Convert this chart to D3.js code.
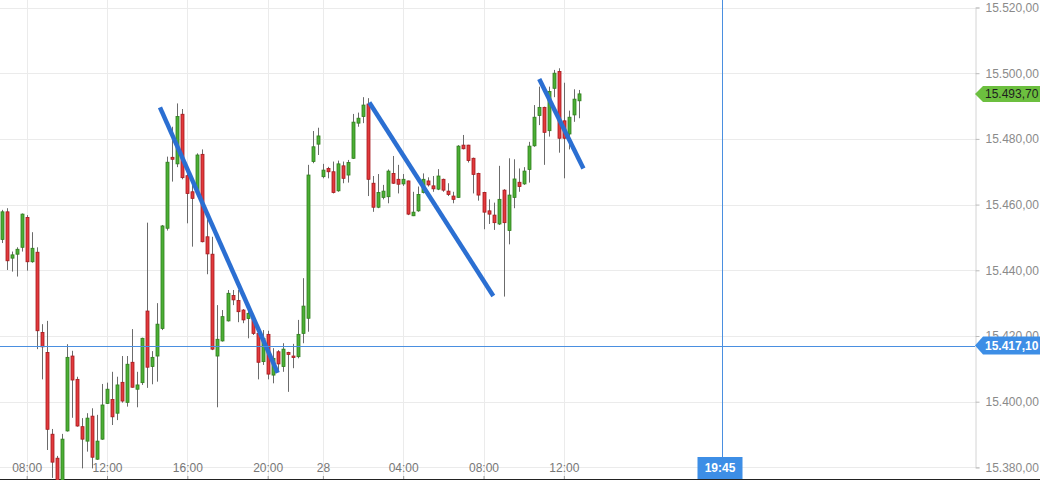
<!DOCTYPE html>
<html><head><meta charset="utf-8">
<script src="https://cdn.jsdelivr.net/npm/d3@7"></script>
<style>
html,body{margin:0;padding:0;background:#fff;}
svg{display:block;font-family:"Liberation Sans",Arial,sans-serif;}
</style></head>
<body><svg id="c" width="1040" height="480"></svg>
<script>
// ---- data (15-minute candles, index 0..115) ----
const open = [15449.4,15457.8,15443.7,15444.9,15447.0,15456.1,15442.6,15445.5,15421.1,15415.0,
15390.1,15382.8,15374.6,15391.1,15413.9,15406.8,15392.4,15388.0,15395.6,15382.5,
15388.6,15399.5,15400.7,15396.5,15405.9,15399.8,15412.0,15403.8,15405.8,15427.6,
15410.7,15413.9,15422.3,15452.8,15474.4,15472.4,15487.5,15468.8,15463.9,15463.9,
15475.3,15450.2,15444.9,15413.9,15418.5,15424.6,15432.3,15430.8,15427.9,15425.3,
15425.3,15420.8,15412.2,15420.5,15408.1,15415.2,15410.7,15415.0,15413.9,15413.7,
15420.8,15425.4,15473.1,15478.4,15468.5,15471.0,15470.0,15464.2,15471.8,15469.0,
15474.1,15484.8,15486.8,15490.6,15466.5,15459.2,15462.2,15462.4,15469.5,15467.7,
15466.3,15467.2,15456.6,15458.1,15463.7,15467.2,15465.7,15464.7,15467.7,15464.1,
15462.6,15462.2,15478.1,15478.1,15474.1,15469.5,15463.7,15458.1,15456.8,15454.1,
15464.4,15452.1,15462.2,15466.8,15466.3,15470.7,15477.9,15487.1,15489.6,15482.5,
15495.4,15500.5,15485.5,15481.5,15487.3,15491.6];
const high = [15458.4,15458.9,15445.7,15447.0,15457.3,15456.8,15451.6,15447.0,15423.6,15424.6,
15391.7,15383.5,15390.2,15417.5,15415.5,15407.6,15395.0,15396.5,15398.0,15396.0,
15405.4,15405.8,15409.1,15407.6,15413.9,15413.9,15422.1,15409.1,15419.5,15454.5,
15415.4,15430.0,15453.8,15474.6,15483.7,15490.8,15489.1,15471.5,15467.5,15475.6,
15476.8,15455.5,15450.2,15429.4,15427.9,15434.0,15434.0,15434.0,15428.2,15427.9,
15425.9,15421.8,15421.8,15421.6,15416.3,15415.7,15417.8,15415.2,15417.6,15424.9,
15437.6,15472.1,15482.4,15483.4,15472.4,15471.5,15473.1,15473.4,15473.1,15473.6,
15487.6,15488.0,15492.7,15492.4,15468.7,15469.3,15466.0,15470.7,15474.8,15472.1,
15469.3,15467.3,15463.9,15465.5,15469.5,15468.3,15468.7,15470.8,15467.9,15466.5,
15463.9,15478.1,15481.2,15478.2,15474.3,15469.7,15463.9,15461.6,15460.6,15471.8,
15464.7,15474.1,15473.8,15471.0,15471.4,15479.1,15490.3,15495.9,15489.8,15495.9,
15501.0,15501.5,15497.1,15488.6,15495.1,15494.9];
const low = [15448.3,15440.1,15439.6,15438.1,15445.7,15439.9,15442.3,15416.0,15406.8,15385.3,
15376.8,15371.6,15371.6,15390.9,15395.1,15392.4,15379.7,15384.8,15379.7,15382.3,
15388.4,15399.3,15392.9,15394.4,15399.7,15398.5,15404.3,15398.3,15405.1,15404.2,
15405.3,15406.1,15421.8,15452.1,15467.0,15471.4,15467.7,15454.3,15447.2,15463.6,
15448.5,15438.8,15415.7,15398.3,15418.3,15424.4,15429.4,15424.2,15423.9,15419.3,
15420.3,15406.8,15411.2,15406.8,15405.6,15409.6,15409.1,15403.0,15410.2,15413.2,
15417.8,15421.3,15472.6,15475.1,15468.0,15468.0,15463.4,15463.9,15466.5,15466.7,
15473.9,15483.7,15484.8,15462.6,15457.8,15458.9,15461.6,15460.4,15466.3,15463.4,
15465.7,15456.8,15456.5,15457.8,15463.4,15465.5,15463.9,15464.4,15463.9,15462.6,
15460.4,15462.1,15476.8,15472.8,15463.4,15461.2,15452.5,15454.1,15452.3,15453.8,
15432.0,15447.9,15458.9,15463.9,15466.0,15466.7,15477.6,15484.2,15472.1,15480.7,
15492.7,15475.8,15468.0,15476.8,15485.2,15486.3];
const close = [15457.8,15442.9,15444.7,15446.4,15457.1,15442.6,15446.7,15421.6,15416.7,15391.6,
15381.6,15374.6,15388.6,15413.5,15406.6,15392.6,15388.6,15395.0,15383.1,15388.0,
15399.0,15403.8,15395.4,15405.1,15400.2,15411.4,15404.4,15405.1,15419.3,15410.5,
15413.5,15423.6,15453.5,15472.9,15473.8,15486.8,15468.2,15463.4,15461.9,15475.1,
15448.7,15445.0,15416.0,15419.0,15425.9,15433.0,15431.0,15427.4,15424.9,15426.9,
15420.8,15412.0,15419.3,15408.4,15413.2,15411.5,15416.0,15414.4,15413.5,15420.5,
15429.1,15469.0,15477.6,15480.9,15470.5,15470.0,15463.7,15472.4,15468.0,15472.8,
15485.1,15486.3,15490.3,15467.7,15459.2,15463.7,15464.1,15470.2,15466.5,15466.2,
15467.7,15457.1,15457.7,15463.1,15467.7,15466.0,15464.8,15468.7,15464.4,15463.1,
15461.6,15477.8,15477.0,15473.4,15469.2,15462.9,15457.7,15457.1,15454.5,15461.6,
15454.5,15462.9,15467.8,15465.5,15470.2,15477.8,15486.6,15489.6,15482.0,15494.4,
15500.0,15480.2,15480.2,15486.6,15492.1,15493.7];

const xTickIdx = [5,21,37,53,64,80,96,112];
const xTickLabels = ["08:00","12:00","16:00","20:00","28","04:00","08:00","12:00"];
const yTicks = [15380,15400,15420,15440,15460,15480,15500,15520];

const trendStartIdx = [31.55,73.25,107.1];
const trendStartVal = [15489.6,15491.1,15498.2];
const trendEndIdx = [55.0,97.95,115.9];
const trendEndVal = [15408.8,15432.2,15471.0];

const crossIdx = 143.5;
const crossVal = 15417.1;
const crossTime = "19:45";

// ---- scales ----
const svg = d3.select("#c");
const plotRight = 975;
const x = d3.scaleLinear().domain([0,115]).range([1.6, 1.6 + 5.02*115]);
const y = d3.scaleLinear().domain([15380,15520]).range([467.4,7.5]);
const loc = d3.formatLocale({decimal:",",thousands:".",grouping:[3],currency:["",""]});
const fmt = loc.format(",.2f");

// grid
const grid = svg.append("g");
grid.selectAll("line.h").data(yTicks).join("line")
  .attr("x1",0).attr("x2",plotRight).attr("y1",d=>Math.round(y(d))+0.5).attr("y2",d=>Math.round(y(d))+0.5)
  .attr("stroke","#ebebeb");
grid.selectAll("line.v").data(xTickIdx).join("line")
  .attr("y1",0).attr("y2",479).attr("x1",d=>Math.round(x(d))+0.5).attr("x2",d=>Math.round(x(d))+0.5)
  .attr("stroke","#ebebeb");

// y axis
const yAxis = d3.axisRight(y).tickValues(yTicks).tickFormat(fmt).tickSize(4).tickPadding(6);
const ya = svg.append("g").attr("transform",`translate(${plotRight+0.5},0)`).call(yAxis);
ya.select(".domain").attr("stroke","#d4d4d4");
ya.selectAll(".tick line").attr("stroke","#bbb");
ya.selectAll(".tick text").attr("fill","#8a8a8a").attr("font-size",12)
  .attr("font-family","Liberation Sans, Arial, sans-serif");

// x axis
const xAxis = d3.axisTop(x).tickValues(xTickIdx).tickFormat((d,i)=>xTickLabels[i]).tickSize(3).tickPadding(4);
const xa = svg.append("g").attr("transform","translate(0,479)").call(xAxis);
xa.select(".domain").remove();
xa.selectAll(".tick line").attr("stroke","#999");
xa.selectAll(".tick text").attr("fill","#777").attr("font-size",12)
  .attr("font-family","Liberation Sans, Arial, sans-serif");
svg.append("line").attr("x1",0).attr("x2",1040).attr("y1",479.5).attr("y2",479.5).attr("stroke","#222");

// candles
const idx = d3.range(open.length);
const cg = svg.append("g");
cg.selectAll("line.w").data(idx).join("line")
  .attr("x1",i=>Math.round(x(i))+0.5).attr("x2",i=>Math.round(x(i))+0.5)
  .attr("y1",i=>y(high[i])).attr("y2",i=>y(low[i]))
  .attr("stroke","#6b6b6b").attr("stroke-width",1);
cg.selectAll("rect").data(idx).join("rect")
  .attr("x",i=>Math.round(x(i))-1)
  .attr("width",3)
  .attr("y",i=>y(Math.max(open[i],close[i])))
  .attr("height",i=>Math.max(1.5,Math.abs(y(open[i])-y(close[i]))))
  .attr("fill",i=>close[i]>=open[i]?"#4caf35":"#e23a3c")
  .attr("stroke",i=>close[i]>=open[i]?"#2f7d1c":"#a5181c")
  .attr("stroke-width",0.8);

// trend lines
svg.append("g").selectAll("line").data(d3.range(trendStartIdx.length)).join("line")
  .attr("x1",i=>x(trendStartIdx[i])).attr("y1",i=>y(trendStartVal[i]))
  .attr("x2",i=>x(trendEndIdx[i])).attr("y2",i=>y(trendEndVal[i]))
  .attr("stroke","#2b6fd2").attr("stroke-width",4.5).attr("stroke-linecap","butt");

// crosshair
const cx = Math.round(x(crossIdx))+0.5, cy = Math.round(y(crossVal))+0.5;
svg.append("line").attr("x1",0).attr("x2",plotRight).attr("y1",cy).attr("y2",cy).attr("stroke","#4a8fe0");
svg.append("line").attr("x1",cx).attr("x2",cx).attr("y1",0).attr("y2",458).attr("stroke","#4a8fe0");

// time tag
svg.append("rect").attr("x",cx-25).attr("y",457).attr("width",45).attr("height",22).attr("fill","#3d8ee6");
svg.append("text").attr("x",cx-2.5).attr("y",472).attr("text-anchor","middle").attr("fill","#fff")
  .attr("font-size",12).attr("font-weight","bold").text(crossTime);

// price tags
function tag(val, h, fill, txtColor, bold){
  const yy = y(val);
  svg.append("path").attr("d",`M${plotRight},${yy} L${plotRight+8},${yy-h/2} L1040,${yy-h/2} L1040,${yy+h/2} L${plotRight+8},${yy+h/2} Z`)
    .attr("fill",fill);
  svg.append("text").attr("x",plotRight+10).attr("y",yy+4.5).attr("fill",txtColor)
    .attr("font-size",12).attr("font-weight",bold?"bold":"normal").text(fmt(val));
}
tag(close[close.length-1],16,"#6cbf3f","#1e1e1e",false);
tag(crossVal,18,"#3d8ee6","#ffffff",true);
</script></body></html>
